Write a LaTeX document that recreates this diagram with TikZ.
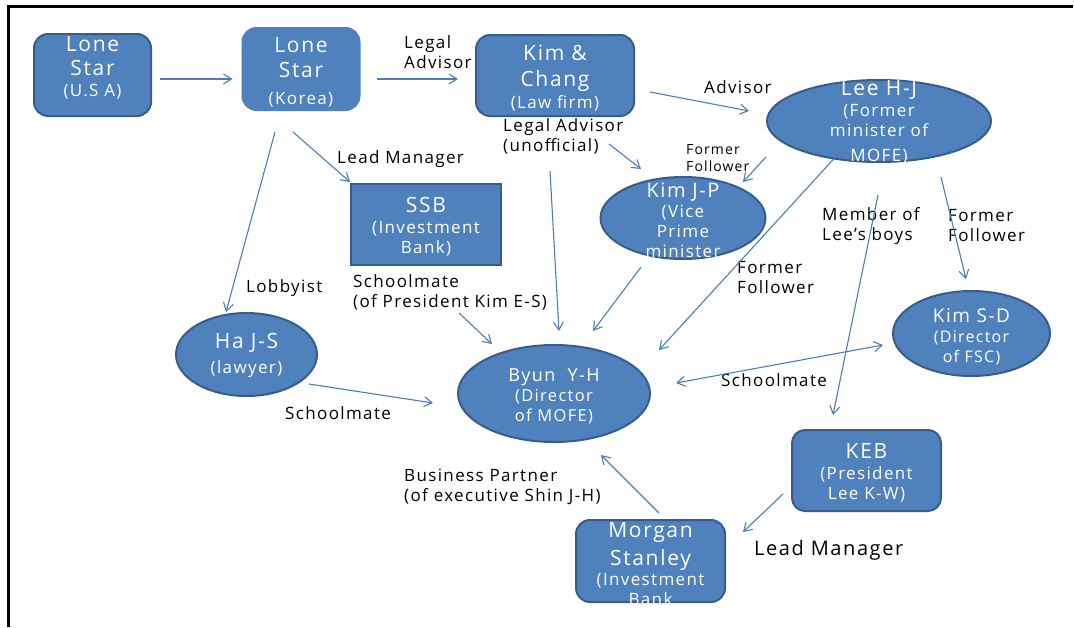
\documentclass[tikz,border=0pt]{standalone}
\usepackage{fontspec}
\setmainfont{Open Sans}[LetterSpace=8]
\usetikzlibrary{shapes.geometric,arrows.meta,calc}
\definecolor{boxblue}{HTML}{4F81BD}
\definecolor{boxedge}{HTML}{385D8A}
\definecolor{linkblue}{HTML}{4A7EBB}
\newcommand\nmfont{\fontsize{21}{20}\selectfont}
\newcommand\sbfont{\fontsize{17}{20}\selectfont}
\newcommand\lbfont{\fontsize{17}{20}\selectfont}
\newcommand\smfont{\fontsize{14}{17}\selectfont}

\begin{document}
\begin{tikzpicture}
[
    x=1pt, y=-1pt,
    box/.style={draw=boxedge, line width=2pt, fill=boxblue, rounded corners=14pt, inner sep=0pt},
    sharpbox/.style={box, rounded corners=0pt},
    oval/.style={ellipse, draw=boxedge, line width=2pt, fill=boxblue, inner sep=0pt},
    intext/.style={text=white, align=center, inner sep=0pt, font=\nmfont},
    link/.style={draw=linkblue, line width=1.1pt, -{Straight Barb[length=8pt,width=10pt]}},
    twolink/.style={link, {Straight Barb[length=8pt,width=10pt]}-{Straight Barb[length=8pt,width=10pt]}},
    tag/.style={font=\lbfont, align=left, anchor=west, inner sep=0pt},
]
\useasboundingbox (0,0) rectangle (1074,627);
\draw[line width=3pt] (8.5,627) -- (8.5,6.5) -- (1073,6.5);

\node[box, minimum width=117pt, minimum height=82pt,
    label={[intext, yshift=7pt]center:{Lone\\[4pt]Star\\[1pt]\sbfont (U.S A)}}] (usa) at (92.5,75) {};
\node[box, draw=boxblue, minimum width=117pt, minimum height=82pt,
    label={[intext, yshift=-3pt]center:{Lone\\[5pt]Star\\[7pt]\sbfont (Korea)}}] (kor) at (301,69) {};
\node[box, minimum width=158pt, minimum height=81pt,
    label={[intext, yshift=-2.5pt]center:{Kim \&\\[6pt]Chang\\[2pt]\sbfont (Law firm)}}] (kc) at (555,75.5) {};
\node[oval, minimum width=224pt, minimum height=82pt,
    label={[intext, yshift=-1pt]center:{Lee H-J\\[1pt]\sbfont (Former\\\sbfont minister of\\[5pt]\sbfont MOFE)}}] (lee) at (879,121) {};
\node[oval, minimum width=165pt, minimum height=82pt,
    label={[intext, yshift=-2pt, font=\fontsize{20}{20}\selectfont]center:{Kim J-P\\\sbfont (Vice\\\sbfont Prime\\\sbfont minister}}] (kjp) at (683,218) {};
\node[sharpbox, minimum width=150pt, minimum height=81pt,
    label={[intext, yshift=-2.5pt]center:{SSB\\[1pt]\sbfont (Investment\\\sbfont Bank)}}] (ssb) at (426,224.5) {};
\node[oval, minimum width=141pt, minimum height=83pt,
    label={[intext, yshift=-1pt]center:{Ha J-S\\[5pt]\sbfont (lawyer)}}] (ha) at (246.5,354.5) {};
\node[oval, minimum width=192pt, minimum height=97pt,
    label={[intext, yshift=-3pt, font=\fontsize{18}{20}\selectfont]center:{Byun~~Y-H\\\fontsize{16.5}{20}\selectfont (Director\\\fontsize{16.5}{20}\selectfont of MOFE)}}] (byun) at (554,393.5) {};
\node[oval, minimum width=157pt, minimum height=85pt,
    label={[intext, yshift=-3.5pt, font=\fontsize{19}{20}\selectfont]center:{Kim S-D\\\fontsize{16}{20}\selectfont (Director\\\fontsize{16}{20}\selectfont of FSC)}}] (ksd) at (971.5,333.5) {};
\node[box, minimum width=149pt, minimum height=81pt, rounded corners=13pt,
    label={[intext, yshift=-2.5pt]center:{KEB\\[1pt]\sbfont (President\\\sbfont Lee K-W)}}] (keb) at (866.5,470.5) {};
\node[box, minimum width=149pt, minimum height=82pt,
    label={[intext, yshift=-3pt]center:{Morgan\\[6pt]Stanley\\\sbfont (Investment\\\sbfont Bank}}] (ms) at (650.5,561) {};

\node[tag] (legal) at (404,52) {Legal\\Advisor};
\node[tag] (adv) at (704,87) {Advisor};
\node[tag] (unoff) at (503,136.5) {Legal Advisor\\(unofficial)};
\node[tag, font=\smfont] (ffkjp) at (686,158.5) {Former\\Follower};
\node[tag] (leadssb) at (337,159) {Lead Manager};
\node[tag] (boys) at (822,226) {Member of\\Lee’s boys};
\node[tag] (ffksd) at (948,226) {Former\\Follower};
\node[tag] (ffbyun) at (737,278) {Former\\Follower};
\node[tag] (lobby) at (246,288) {Lobbyist};
\node[tag] (mateksd) at (353,292) {Schoolmate\\(of President Kim E-S)};
\node[tag] (mateha) at (285,413) {Schoolmate};
\node[tag] (matefsc) at (721,380) {Schoolmate};
\node[tag] (partner) at (404,486.5) {Business Partner\\(of executive Shin J-H)};
\node[tag, font=\fontsize{20}{24}\selectfont] (leadms) at (754,550) {Lead Manager};

\draw[link] ($(usa.east)+(8,4)$) -- ($(kor.west)+(-9,10)$);
\draw[link] ($(kor.east)+(16,10)$) -- ($(kc.west)+(-17,3.5)$);
\draw[link] ($(kc.east)+(15,16.5)$) -- ($(lee.west)+(-17,-10)$);
\draw[link] ($(kc.south)+(54,27)$) -- ($(kjp.north)+(-42,-7)$);
\draw[link] ($(lee.west)+(0,36)$) -- ($(kjp.north)+(60,6)$);
\draw[link] ($(lee.south)+(-38,-12)$) -- ($(byun.north)+(105,6)$);
\draw[link] ($(lee.south)+(-1,32)$) -- ($(keb.north)+(-33.5,-14)$);
\draw[link] ($(lee.south)+(62,14)$) -- ($(ksd.north)+(-5.5,-11)$);
\draw[link] ($(kor.south)+(-26,21)$) -- ($(ha.north)+(-20.5,0)$);
\draw[link] ($(kor.south)+(-8,21)$) -- ($(ssb.north west)+(0,-1)$);
\draw[link] ($(ssb.south)+(33,47)$) -- ($(byun.north)+(-62,0)$);
\draw[link] ($(kc.south)+(-5,54)$) -- ($(byun.north)+(5,-13)$);
\draw[link] ($(kjp.south)+(-42,7)$) -- ($(byun.north)+(39,-13)$);
\draw[link] ($(ha.east)+(-9,29.5)$) -- ($(byun.west)+(-24,9.5)$);
\draw[twolink] ($(byun.east)+(25,-10.5)$) -- ($(ksd.west)+(-9,11.5)$);
\draw[link] ($(ms.north)+(8.5,-6)$) -- ($(byun.south)+(47,12)$);
\draw[link] ($(keb.west)+(-8,23.5)$) -- ($(ms.east)+(17,-29)$);
\end{tikzpicture}
\end{document}
